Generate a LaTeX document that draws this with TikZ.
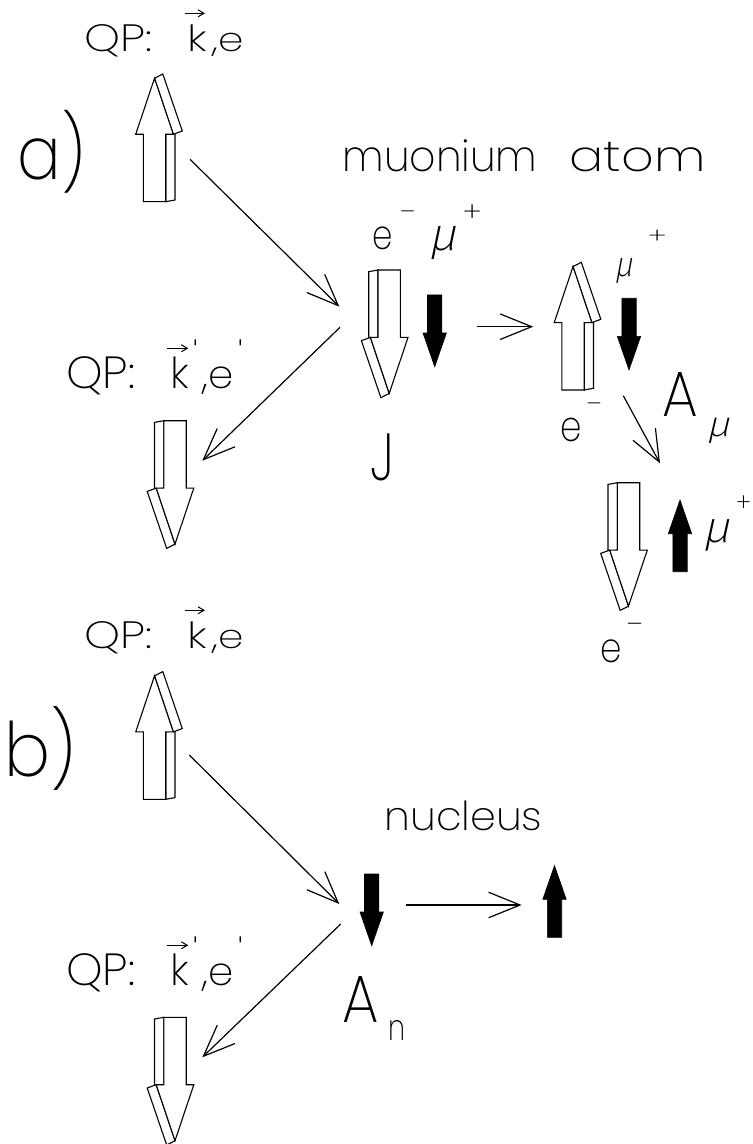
\documentclass[tikz,border=0pt]{standalone}
\usepackage{fontspec}
\IfFontExistsTF{Poppins ExtraLight}{\setmainfont{Poppins ExtraLight}}{\setmainfont{Poppins}}
\IfFontExistsTF{Fira Sans ExtraLight}{\newfontfamily\grk{Fira Sans ExtraLight}[FakeSlant=0.2]}{\newfontfamily\grk{DejaVu Sans}[FakeSlant=0.2]}
\newfontfamily\tickfont{DejaVu Sans}
\usetikzlibrary{arrows.meta}
\tikzset{
  lbl/.style={font=\fontsize{#1}{#1}\selectfont, inner sep=0pt, outer sep=0pt, anchor=base west},
  grkl/.style={font=\fontsize{#1}{#1}\selectfont\grk, inner sep=0pt, outer sep=0pt, anchor=north west},
  sgn/.style={font=\fontsize{#1}{#1}\selectfont, inner sep=0pt, outer sep=0pt, anchor=north},
  prm/.style={font=\fontsize{#1}{#1}\selectfont\tickfont, inner sep=0pt, outer sep=0pt, anchor=north},
  conn/.style={line width=0.6pt, -{Straight Barb[length=15.75pt,width=12.75pt]}},
  vecarr/.style={line width=0.5pt, -{Straight Barb[length=3pt,width=3.5pt]}},
  hollow/.style={draw=black, fill=white, line width=0.55pt, line join=miter},
  blk/.style={fill=black, draw=black, line width=0.3pt, line join=miter},
}
% fit a text to a given width and height (height measured on a reference glyph)
\newcommand\fitt[4]{\resizebox{#1}{#2}{\smash{#3}\vphantom{#4}}}
\newcommand\openarr[2]{\begin{scope}[shift={#1},rotate=#2]
  \path[hollow] (11.2,0) -- (20.5,-1.7) -- (20.5,-68.5) -- (11.2,-67.4) -- cycle;
  \path[hollow] (0,-123.4) -- (8.3,-127.7) -- (27.8,-70.7) -- (18.8,-67.4) -- cycle;
  \path[hollow] (-11.2,0) -- (-11.2,-67.4) -- (-18.8,-67.4) -- (0,-123.4) -- (18.8,-67.4) -- (11.2,-67.4) -- (11.2,0) -- cycle;
\end{scope}}
\newcommand\solidarr[2]{\begin{scope}[shift={#1},rotate=#2]
  \path[blk] (-7.2,0) -- (-7.2,-38) -- (-11.7,-38) -- (0,-71.7) -- (11.7,-38) -- (7.2,-38) -- (7.2,0) -- cycle;
\end{scope}}
\begin{document}
\begin{tikzpicture}[x=0.5pt,y=-0.5pt]
\fill[white] (0,0) rectangle (752,1144);
\useasboundingbox (0,0) rectangle (752,1144);

% ---------- part a ----------
\openarr{(154.5,201.7)}{0}
\openarr{(175,420.7)}{180}
\openarr{(389.2,270)}{180}
\openarr{(573,390)}{0}
\openarr{(628.5,482.7)}{180}
\solidarr{(434.7,295)}{180}
\solidarr{(629,298.3)}{180}
\solidarr{(680,571.7)}{0}

\coordinate (a1s) at (190,159.3);   \coordinate (a1e) at (339.3,306.7);
\coordinate (a2s) at (340,327.3);   \coordinate (a2e) at (202.3,460.7);
\coordinate (a3s) at (476.7,326.7); \coordinate (a3e) at (533.3,326.7);
\coordinate (a4s) at (623.3,395.7); \coordinate (a4e) at (660,463.3);
\draw[conn] (a1s) -- (a1e);
\draw[conn] (a2s) -- (a2e);
\draw[conn] (a3s) -- (a3e);
\draw[conn] (a4s) -- (a4e);

\node[lbl=20pt] (qpa) at (84,51.7) {\fitt{34pt}{13.35pt}{QP:}{P}};
\node[lbl=20pt] (ka) at (187.5,51.7) {\fitt{9.8pt}{13.35pt}{k}{k}};
\node[lbl=20pt] (kea) at (212.5,51.7) {\fitt{15.6pt}{9.15pt}{,e}{e}};
\draw[vecarr] ([shift={(-2.5,-11.7)}]ka.north west) -- ++(20,0);

\node[grkl=32pt, font=\fontsize{32pt}{32pt}\selectfont] (la) at (17.5,110) {\resizebox*{34pt}{41.5pt}{a)}};
\node[lbl=20pt] (mu1) at (342.5,171.7) {\fitt{97.5pt}{11.65pt}{muonium}{u}};
\node[lbl=20pt] (atom) at (569.5,171.7) {\fitt{68pt}{11.65pt}{atom}{u}};
\node[lbl=20pt] (ea) at (372,249.3) {\fitt{10.2pt}{11.3pt}{e}{e}};
\node[sgn=16pt] (ema) at (407.5,210.7) {\resizebox{7.5pt}{!}{–}};
\node[grkl=22pt] (mua) at (428.3,226.7) {\resizebox*{14.2pt}{16.65pt}{μ}};
\node[sgn=20pt] (mpa) at (472.3,205) {\resizebox{9.35pt}{8.35pt}{+}};
\node[lbl=32pt] (J) at (370,480) {\fitt{12pt}{23.35pt}{J}{J}};

\node[lbl=22pt] (qpa2) at (66.2,388.3) {\fitt{34.5pt}{15.8pt}{QP:}{P}};
\node[lbl=22pt] (ka2) at (170,388.3) {\fitt{9.3pt}{15.8pt}{k}{k}};
\node[prm=11pt] (pa1) at (195.5,339.5) {ˈ};
\node[lbl=22pt] (kea2) at (202.8,388.3) {\fitt{15.5pt}{10.8pt}{,e}{e}};
\node[prm=11pt] (pa2) at (240.5,339.5) {ˈ};
\draw[vecarr] ([shift={(-3.3,-8.4)}]ka2.north west) -- ++(21.6,0);

\node[grkl=18pt] (mub) at (614,258.3) {\resizebox*{9.35pt}{12.5pt}{μ}};
\node[sgn=18pt] (mpb) at (657.3,230) {\resizebox{9.35pt}{6.65pt}{+}};
\node[lbl=20pt] (eb) at (560,441.7) {\fitt{10.7pt}{11.7pt}{e}{e}};
\node[sgn=16pt] (emb) at (594.2,403) {\resizebox{7.5pt}{!}{–}};
\node[lbl=32pt] (Amu) at (662.5,416.7) {\fitt{17.8pt}{22pt}{A}{A}};
\node[grkl=18pt] (Amus) at (706,418) {\resizebox*{12pt}{12.65pt}{μ}};
\node[grkl=22pt] (muc) at (702.7,520) {\resizebox*{14pt}{15.85pt}{μ}};
\node[sgn=18pt] (mpc) at (743.5,496) {\resizebox{7.5pt}{7.85pt}{+}};
\node[lbl=20pt] (ec) at (600,662.7) {\fitt{10.7pt}{11.35pt}{e}{e}};
\node[sgn=16pt] (emc) at (634.7,623.3) {\resizebox{8pt}{!}{–}};

% ---------- part b ----------
\openarr{(154.5,799.3)}{0}
\openarr{(175,1017.3)}{180}
\solidarr{(371.7,874)}{180}
\solidarr{(554.5,937.3)}{0}

\coordinate (b1s) at (189.3,755);   \coordinate (b1e) at (339.3,904);
\coordinate (b2s) at (340.7,924);   \coordinate (b2e) at (202.3,1057.3);
\coordinate (b3s) at (406,905);     \coordinate (b3e) at (521.7,905);
\draw[conn] (b1s) -- (b1e);
\draw[conn] (b2s) -- (b2e);
\draw[conn] (b3s) -- (b3e);

\node[lbl=20pt] (qpb) at (84,648.7) {\fitt{34pt}{13.35pt}{QP:}{P}};
\node[lbl=20pt] (kb) at (187.5,648.7) {\fitt{9.8pt}{13.35pt}{k}{k}};
\node[lbl=20pt] (keb) at (212.5,648.7) {\fitt{15.6pt}{9.15pt}{,e}{e}};
\draw[vecarr] ([shift={(-2.5,-11.7)}]kb.north west) -- ++(20,0);

\node[grkl=32pt, font=\fontsize{32pt}{32pt}\selectfont] (lb) at (4,706) {\resizebox*{36pt}{42pt}{b)}};
\node[lbl=20pt] (nuc) at (384.5,830) {\fitt{79pt}{10.85pt}{nucleus}{u}};
\node[lbl=32pt] (An) at (342.5,1022.7) {\fitt{18.2pt}{23pt}{A}{A}};
\node[lbl=18pt] (Ans) at (388.5,1040) {\fitt{8.5pt}{10pt}{n}{n}};

\node[lbl=22pt] (qpb2) at (66.2,985.3) {\fitt{34.5pt}{15.8pt}{QP:}{P}};
\node[lbl=22pt] (kb2) at (170,985.3) {\fitt{9.3pt}{15.8pt}{k}{k}};
\node[prm=11pt] (pb1) at (195.5,936.5) {ˈ};
\node[lbl=22pt] (keb2) at (202.8,985.3) {\fitt{15.5pt}{10.8pt}{,e}{e}};
\node[prm=11pt] (pb2) at (240.5,936.5) {ˈ};
\draw[vecarr] ([shift={(-3.3,-8.4)}]kb2.north west) -- ++(21.6,0);
\end{tikzpicture}
\end{document}
